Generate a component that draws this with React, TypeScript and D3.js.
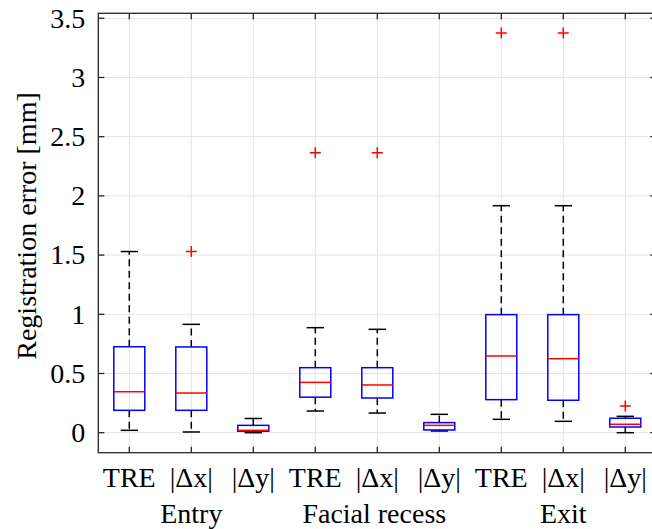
import React from 'react';
import * as d3 from 'd3';

const groups = ['Entry', 'Facial recess', 'Exit'];
const metrics = ['TRE', '|Δx|', '|Δy|'];

// one value per box, in order Entry TRE, Entry |Δx|, ..., Exit |Δy|
const whiskerLow = [0.02, 0.006, 0.0, 0.183, 0.166, 0.014, 0.113, 0.096, 0.0];
const q1 = [0.189, 0.189, 0.012, 0.3, 0.293, 0.023, 0.279, 0.274, 0.048];
const medians = [0.346, 0.335, 0.02, 0.425, 0.403, 0.062, 0.648, 0.625, 0.071];
const q3 = [0.726, 0.724, 0.062, 0.549, 0.549, 0.085, 0.997, 0.997, 0.122];
const whiskerHigh = [1.53, 0.915, 0.12, 0.887, 0.873, 0.155, 1.917, 1.917, 0.138];
const outliers = [[], [1.53], [], [2.365], [2.365], [], [3.376], [3.376], [0.225]];

const yTicks = [0, 0.5, 1, 1.5, 2, 2.5, 3, 3.5];

const W = 652;
const H = 529;
const textStyle = { fontFamily: 'Liberation Serif', fontSize: '28px' };

const App = () => {
  const n = groups.length * metrics.length;
  const x = d3.scaleLinear().domain([0.5, n + 0.5]).range([98.3, 656.3]);
  const y = d3.scaleLinear().domain([-0.169, 3.542]).range([452.7, 13.3]);
  const [x0, x1] = x.range();
  const [yb, yt] = y.range();
  const boxW = x(1.25) - x(1);
  const capW = x(1.14) - x(1);
  const tickLen = 6;
  const axisColor = '#262626';
  const positions = d3.range(1, n + 1);

  return (
    <svg width={W} height={H} style={{ position: 'absolute', left: 0, top: 0, background: '#fff' }}>
      {/* grid */}
      <g stroke="#e4e4e4" strokeWidth={1}>
        {positions.map(p => (
          <line key={'gx' + p} x1={x(p)} x2={x(p)} y1={yt} y2={yb} />
        ))}
        {yTicks.map(t => (
          <line key={'gy' + t} x1={x0} x2={x1} y1={y(t)} y2={y(t)} />
        ))}
      </g>

      {/* boxes */}
      {positions.map((p, i) => {
        const cx = x(p);
        return (
          <g key={'b' + i}>
            <line x1={cx} x2={cx} y1={y(q3[i])} y2={y(whiskerHigh[i])} stroke="#000" strokeWidth={1.5} strokeDasharray="7,4.5" />
            <line x1={cx} x2={cx} y1={y(q1[i])} y2={y(whiskerLow[i])} stroke="#000" strokeWidth={1.5} strokeDasharray="7,4.5" />
            <line x1={cx - capW} x2={cx + capW} y1={y(whiskerHigh[i])} y2={y(whiskerHigh[i])} stroke="#000" strokeWidth={1.5} />
            <line x1={cx - capW} x2={cx + capW} y1={y(whiskerLow[i])} y2={y(whiskerLow[i])} stroke="#000" strokeWidth={1.5} />
            <rect x={cx - boxW} y={y(q3[i])} width={boxW * 2} height={y(q1[i]) - y(q3[i])} fill="none" stroke="#0000ff" strokeWidth={1.5} />
            <line x1={cx - boxW} x2={cx + boxW} y1={y(medians[i])} y2={y(medians[i])} stroke="#ff0000" strokeWidth={1.5} />
            {outliers[i].map((v, j) => (
              <path key={j} d={`M${cx - 5.5},${y(v)}H${cx + 5.5}M${cx},${y(v) - 5.5}V${y(v) + 5.5}`} stroke="#ff0000" strokeWidth={1.5} fill="none" />
            ))}
          </g>
        );
      })}

      {/* axes frame and ticks */}
      <g stroke={axisColor} strokeWidth={1.3} fill="none">
        <rect x={x0} y={yt} width={x1 - x0} height={yb - yt} />
        {positions.map(p => (
          <g key={'tx' + p}>
            <line x1={x(p)} x2={x(p)} y1={yb} y2={yb - tickLen} />
            <line x1={x(p)} x2={x(p)} y1={yt} y2={yt + tickLen} />
          </g>
        ))}
        {yTicks.map(t => (
          <g key={'ty' + t}>
            <line x1={x0} x2={x0 + tickLen} y1={y(t)} y2={y(t)} />
            <line x1={x1} x2={x1 - tickLen} y1={y(t)} y2={y(t)} />
          </g>
        ))}
      </g>

      {/* labels */}
      {yTicks.map(t => (
        <text key={'ly' + t} style={textStyle} x={x0 - 13} y={y(t)} dy="0.33em" textAnchor="end">
          {String(t)}
        </text>
      ))}
      {positions.map((p, i) => (
        <text key={'lx' + p} style={textStyle} x={x(p)} y={487} textAnchor="middle">
          {metrics[i % metrics.length]}
        </text>
      ))}
      {groups.map((g, gi) => (
        <text key={'lg' + g} style={textStyle} x={x(gi * metrics.length + 2) + (gi === 1 ? -3 : 0)} y={523} textAnchor="middle">
          {g}
        </text>
      ))}
      <text style={textStyle} transform="translate(36,226) rotate(-90)" textAnchor="middle">
        Registration error [mm]
      </text>
    </svg>
  );
};

export default App;
